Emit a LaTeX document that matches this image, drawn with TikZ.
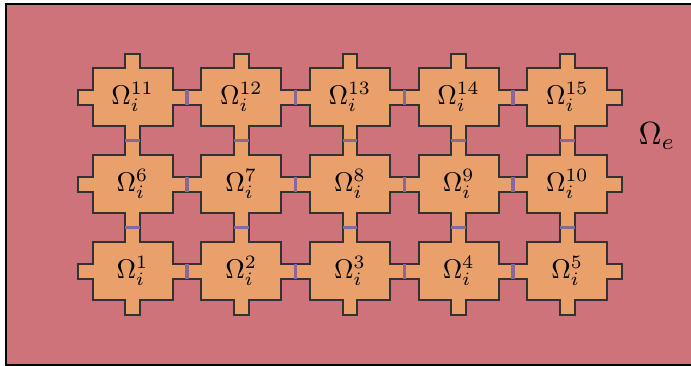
\documentclass[tikz,border=0pt]{standalone}
\definecolor{bgpink}{RGB}{205,115,121}
\definecolor{cellorange}{RGB}{233,160,107}
\definecolor{bondpurple}{RGB}{134,105,155}
\definecolor{edgegray}{RGB}{50,50,50}
\begin{document}
\begin{tikzpicture}[x=1pt,y=-1pt,
  cellshape/.style={fill=cellorange,draw=edgegray,line width=2pt,line join=miter},
  bond/.style={draw=bondpurple,line width=3.5pt},
  celllabel/.style={scale=2.7,inner sep=0pt},
  domlabel/.style={scale=3.2,inner sep=0pt}]
\useasboundingbox (0,0) rectangle (691,366);
\fill[white] (0,0) rectangle (691,366);
\begin{scope}
  \clip (0,0) rectangle (691,366);
  \draw[fill=bgpink,line width=2.5pt] (6,4) rectangle (700,365);
\end{scope}
% cells
\foreach \r in {0,1,2}{
  \foreach \c in {0,...,4}{
    \pgfmathsetmacro{\cx}{132.5+108.7*\c}
    \pgfmathsetmacro{\cy}{271.2-87*\r}
    \pgfmathtruncatemacro{\n}{5*\r+\c+1}
    \begin{scope}[shift={(\cx,\cy)}]
      \draw[cellshape]
        (-40,-29) -- (-7.4,-29) -- (-7.4,-43.5) -- (7.4,-43.5) -- (7.4,-29)
        -- (40,-29) -- (40,-7.4) -- (54.35,-7.4) -- (54.35,7.4) -- (40,7.4)
        -- (40,29) -- (7.4,29) -- (7.4,43.5) -- (-7.4,43.5) -- (-7.4,29)
        -- (-40,29) -- (-40,7.4) -- (-54.35,7.4) -- (-54.35,-7.4) -- (-40,-7.4)
        -- cycle;
      \node[celllabel] (c\n) at (0,0) {$\Omega_i^{\n}$};
    \end{scope}
  }
}
% bonds between horizontal neighbours
\foreach \r in {0,1,2}{
  \foreach \c in {0,...,3}{
    \pgfmathsetmacro{\bx}{132.5+108.7*\c+54.35}
    \pgfmathsetmacro{\cy}{271.2-87*\r}
    \coordinate (hb\r\c a) at (\bx,\cy-7.4);
    \coordinate (hb\r\c b) at (\bx,\cy+7.4);
    \draw[bond] (hb\r\c a) -- (hb\r\c b);
  }
}
% bonds between vertical neighbours
\foreach \r in {0,1}{
  \foreach \c in {0,...,4}{
    \pgfmathsetmacro{\cx}{132.5+108.7*\c}
    \pgfmathsetmacro{\by}{271.2-87*\r-43.5}
    \coordinate (vb\r\c a) at (\cx-7.4,\by);
    \coordinate (vb\r\c b) at (\cx+7.4,\by);
    \draw[bond] (vb\r\c a) -- (vb\r\c b);
  }
}
\node[domlabel] (oe) at (657,136) {$\Omega_e$};
\end{tikzpicture}
\end{document}
